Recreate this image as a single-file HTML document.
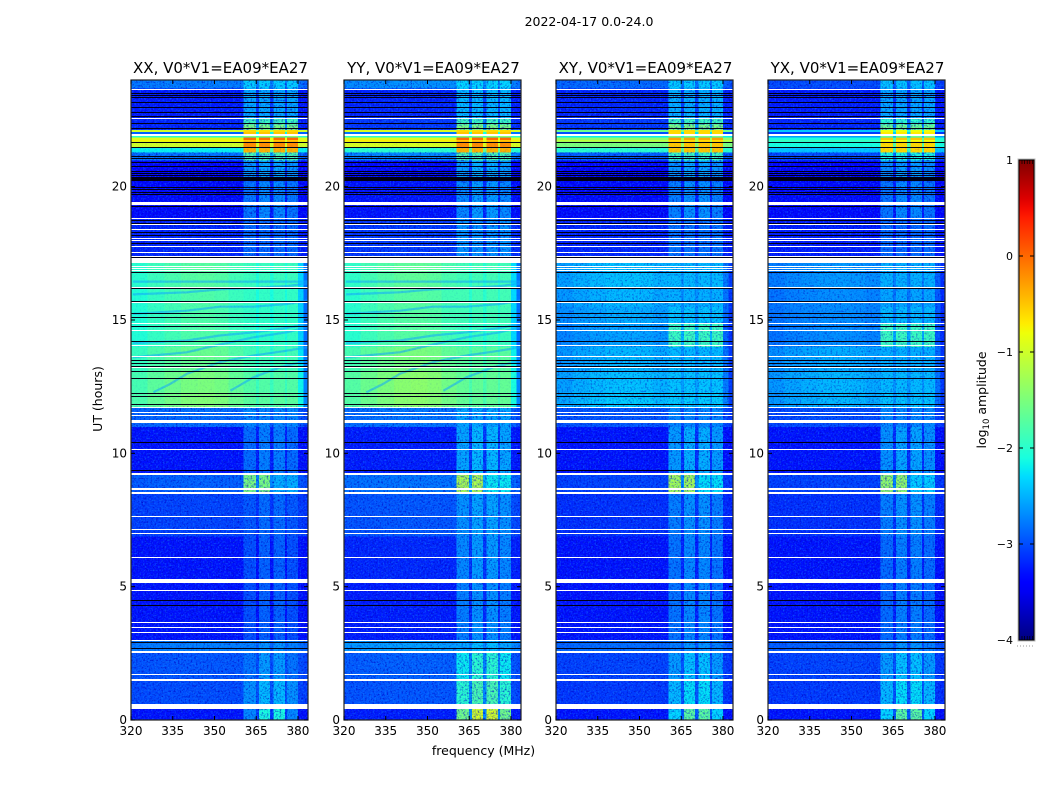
<!DOCTYPE html>
<html>
<head>
<meta charset="utf-8">
<title>Dynamic spectra</title>
<style>
html,body{margin:0;padding:0;background:#fff;width:1050px;height:800px;overflow:hidden}
svg{display:block}
text{font-family:"DejaVu Sans","Liberation Sans",sans-serif;fill:#000}
.tick{font-size:12px}
.label{font-size:12.5px}
.ptitle{font-size:15px}
</style>
</head>
<body>
<svg id="fig" xmlns="http://www.w3.org/2000/svg" width="1050" height="800" viewBox="0 0 1050 800">
  <defs>
    <filter id="grain" x="0" y="0" width="100%" height="100%" color-interpolation-filters="sRGB" filterUnits="objectBoundingBox">
      <feTurbulence type="fractalNoise" baseFrequency="0.55" numOctaves="2" seed="4"/>
      <feColorMatrix type="matrix" values="0 0 0 0 0  0 0 0 0 0  0 0 0 0 0.75  3 0 0 0 -1.45"/>
    </filter>
    <filter id="grain-light" x="0" y="0" width="100%" height="100%" color-interpolation-filters="sRGB" filterUnits="objectBoundingBox">
      <feTurbulence type="fractalNoise" baseFrequency="0.6" numOctaves="2" seed="11"/>
      <feColorMatrix type="matrix" values="0 0 0 0 0.1  0 0 0 0 0.6  0 0 0 0 1  0 3 0 0 -1.45"/>
    </filter>
    <linearGradient id="cbar-gradient" x1="0" y1="1" x2="0" y2="0"></linearGradient>
  </defs>
  <text class="label" x="589" y="26" text-anchor="middle">2022-04-17 0.0-24.0</text>
  <text class="label" transform="translate(102,399) rotate(-90)" text-anchor="middle">UT (hours)</text>
  <text class="label" x="483.5" y="755" text-anchor="middle">frequency (MHz)</text>
  <g id="panels"></g>
  <g id="colorbar"></g>
  <text class="label" transform="translate(986,400) rotate(-90)" text-anchor="middle">log<tspan font-size="8.5" dy="3">10</tspan><tspan dy="-3"> amplitude</tspan></text>
</svg>
<script>
// ---- chart data ----
const panelTitles = ["XX, V0*V1=EA09*EA27","YY, V0*V1=EA09*EA27","XY, V0*V1=EA09*EA27","YX, V0*V1=EA09*EA27"];
const freqTicks = [320,335,350,365,380];
const utTicks = [0,5,10,15,20];
const cbarTicks = [-4,-3,-2,-1,0,1];

// UT band edges (hours)
const utEdges = [0,.5,1.5,2.55,3,5.2,6.9,8.55,9.25,11,11.75,12.3,13.1,14,14.9,15.5,16.2,17.15,17.33,18.8,20.2,20.35,21,21.3,21.46,21.5,21.65,21.7,21.77,21.85,21.9,21.98,22.07,22.14,22.35,22.55,23.7,24];

// log10 amplitude of the continuum in each UT band
const xxContinuum = [-3.3,-3.0,-2.95,-2.75,-3.3,-3.3,-3.05,-2.9,-3.3,-2.85,-1.55,-1.6,-1.7,-1.85,-1.85,-1.85,-1.8,-2.3,-3.2,-3.35,-3.4,-3.4,-2.8,-2.2,-2.2,-1,-1,-.75,-.9,-2,-2,-2.9,-1,-3.2,-3.2,-3.25,-2.75];
const yyContinuum = [-3.25,-2.95,-2.9,-2.6,-3.25,-3.2,-2.95,-2.8,-3.25,-2.8,-1.5,-1.5,-1.6,-1.8,-1.8,-1.8,-1.75,-2.2,-3.1,-3.3,-3.4,-3.35,-2.7,-2,-2,-.95,-1,-.7,-.9,-2,-2,-2.8,-.95,-3.1,-3.1,-3.2,-2.65];
const xyContinuum = [-3.3,-3.1,-3.05,-2.85,-3.3,-3.3,-3.15,-3.05,-3.3,-2.95,-2.4,-2.45,-2.5,-2.6,-2.55,-2.5,-2.45,-2.7,-3.2,-3.35,-3.4,-3.4,-2.9,-2,-2,-1.5,-1.5,-1.1,-1.4,-2.2,-2.2,-3,-1.6,-3.1,-3.1,-3.2,-2.85];
const yxContinuum = [-3.3,-3.1,-3.05,-2.9,-3.3,-3.3,-3.15,-3.05,-3.3,-3,-2.5,-2.5,-2.55,-2.7,-2.7,-2.7,-2.65,-2.8,-3.25,-3.35,-3.4,-3.4,-3,-2.4,-2.4,-2.1,-2.1,-1.9,-2.1,-2.6,-2.6,-3.1,-2.4,-3.2,-3.2,-3.25,-3];

// log10 amplitude inside the four bright frequency blocks
const xxBlocks = [-2.4,-2.55,-2.7,-2.7,-2.95,-2.95,-2.9,-2.0,-2.8,-2.7,-1.7,-1.75,-1.85,-1.95,-1.95,-1.95,-1.9,-2.3,-2.85,-2.75,-3,-2.6,-1.8,-.4,-.4,-.2,-.3,-.5,0,-2,-.8,-.5,-.6,-1.5,-1.9,-2.55,-2.35];
const yyBlocks = [-1.25,-1.9,-2.1,-2.5,-2.7,-2.65,-2.6,-1.7,-2.5,-2.55,-1.65,-1.65,-1.7,-1.9,-1.85,-1.85,-1.85,-2.2,-2.65,-2.65,-3,-2.55,-1.8,-.4,-.4,-.2,-.3,-.5,0,-2,-.8,-.5,-.6,-1.5,-1.9,-2.45,-2.3];
const xyBlocks = [-2.0,-2.35,-2.5,-2.7,-2.75,-2.75,-2.7,-1.75,-2.55,-2.7,-2.35,-2.4,-2.45,-1.9,-2.4,-2.5,-2.45,-2.6,-2.8,-2.7,-3,-2.6,-1.9,-.5,-.5,-.5,-.5,-.6,-.3,-2,-1,-.6,-.6,-1.5,-1.9,-2.5,-2.35];
const yxBlocks = [-2.0,-2.35,-2.5,-2.7,-2.8,-2.8,-2.7,-1.85,-2.6,-2.7,-2.4,-2.45,-2.5,-1.9,-2.45,-2.55,-2.5,-2.65,-2.85,-2.75,-3,-2.65,-2.1,-.6,-.6,-.6,-.6,-.8,-.5,-2.1,-1.1,-.7,-.8,-1.6,-2,-2.55,-2.4];

// per-band contrast between the first and last pair of blocks, and middle blocks vs outer ones
const blockTilt = [0,0,0,0,0,0,0,.5,0,0,0,0,0,0,0,0,0,0,0,0,0,0,0,0,0,0,0,0,0,0,0,0,0,0,0,0,0];
const blockMiddle = [.3,.1,.1,.05,.05,.05,.05,0,.05,0,0,0,0,0,0,0,0,0,0,.05,0,.05,0,0,0,0,0,0,0,0,0,0,0,0,0,0,0];
// how strongly the spectral slope shows in each band (strong in the solar hours)
const slopeWeight = [.3,.3,.3,.3,.3,.3,.3,.3,.3,.5,1,1,1,1,1,1,1,.6,.3,.3,.3,.3,.2,0,0,0,0,0,0,0,0,0,0,.3,.3,.3,.3];
// how visible the pixel noise is in each band
const noiseWeight = [1,1,1,.7,1,1,1,1,1,1,.1,.1,.1,.1,.1,.1,.1,.5,1,1,1,1,1,.2,.2,.1,.1,.1,.1,.3,.3,.5,.1,1,1,1,1];

// frequency columns (MHz): kinds are c=continuum, b=bright block, g=gap, e=band edge
const freqEdges = [320,326,332,338,344,350,355,360.4,365,366,370,371.2,375.4,376,380,382,383.6];
const freqKinds = ["c","c","c","c","c","c","c","b","g","b","g","b","g","b","e","e"];
const slopeShape = [-.12,-.05,0,.04,.05,.03,-.03,0,0,0,0,0,0,0,-.3,-.6];
const blockOrder = [0,0,0,0,0,0,0,0,0,1,0,2,0,3,0,0];

// flagged integrations [UT centre, width in hours]
const whiteFlagUT = [.52,1.5,1.72,2.55,3,3.3,3.47,3.65,4.85,5.22,6.1,7,7.15,7.63,8.52,8.65,9.24,10.15,11.2,11.42,11.53,11.73,13.23,13.63,14.05,14.6,14.88,15.67,16.23,16.85,16.94,17.02,17.24,17.38,17.54,17.75,17.98,18.04,18.38,18.58,18.79,19.38,21.93,22.55,23.63];
const whiteFlagWidth = [.19,.09,.05,.09,.05,.05,.05,.05,.05,.15,.05,.05,.05,.05,.06,.06,.08,.05,.1,.05,.05,.05,.05,.05,.05,.05,.05,.05,.05,.04,.04,.04,.17,.04,.04,.04,.04,.04,.04,.04,.04,.11,.09,.05,.05];
const blackFlagUT = [2.7,2.9,4.3,4.5,9.36,10.42,11.83,12.15,12.26,12.8,13.05,13.27,13.38,13.5,14.03,14.2,14.76,15.1,15.24,15.7,16.2,16.77,17.14,17.35,17.86,18.17,18.27,18.63,18.75,19.25,19.69,19.79,19.88,19.98,20.27,20.42,20.49,20.56,20.75,20.9,21.05,21.15,21.47,21.66,22.19,22.37,22.64,22.79,22.98,23.17,23.33,23.42,23.5];
const blackFlagWidth = [.04,.04,.04,.04,.04,.04,.04,.04,.04,.04,.04,.04,.04,.04,.04,.04,.04,.04,.04,.04,.04,.04,.04,.04,.04,.04,.04,.04,.04,.04,.04,.04,.04,.04,.14,.04,.04,.04,.04,.04,.04,.04,.04,.04,.04,.04,.04,.04,.04,.04,.04,.04,.04];

// drifting solar arcs seen in the parallel hands
const arcFreqs = [[328,334,340,352,364,376,383.5],[355.7,364,373.6,383.5],[320.7,340,352,364,376,383.5],[320.7,340,352,364,376,383.5],[320.7,340,352,364,376,383.5],[320.7,340,352,364,376,383.5],[320.7,340,352,364,376,383.5]];
const arcUTs = [[12.29,12.6,12.98,13.42,13.67,13.85,13.98],[12.35,12.85,13.23,13.48],[13.6,13.79,14.08,14.35,14.54,14.73],[14.13,14.23,14.42,14.54,14.7,14.85],[15.23,15.35,15.5,15.5,15.6,15.73],[15.96,16.04,16.15,16.2,16.27,16.36],[16.44,16.44,16.44,16.44,16.44,16.44]];

const panelContinuum = [xxContinuum,yyContinuum,xyContinuum,yxContinuum];
const panelBlocks = [xxBlocks,yyBlocks,xyBlocks,yxBlocks];
const panelHasArcs = [true,true,false,false];
const panelLefts = [131,344,556,768];

// ---- axis functions ----
const NS = "http://www.w3.org/2000/svg";
const axW = 177, axTop = 80, axBottom = 720;
const fMin = 320, fMax = 383.6, utMax = 24;
function xScale(left, f){ return left + (f - fMin) / (fMax - fMin) * axW; }
function yScale(ut){ return axBottom - ut / utMax * (axBottom - axTop); }
const cbTop = 160, cbBottom = 640, cbLeft = 1019, cbRight = 1034;
function cbScale(v){ return cbBottom - (v + 4) / 5 * (cbBottom - cbTop); }

const jetR = [[0,0],[.35,0],[.66,1],[.89,1],[1,.5]];
const jetG = [[0,0],[.125,0],[.375,1],[.64,1],[.91,0],[1,0]];
const jetB = [[0,.5],[.11,1],[.34,1],[.65,0],[1,0]];
function lerp(table, t){
  for (let i = 1; i < table.length; i++) {
    if (t <= table[i][0]) {
      const a = table[i-1], b = table[i];
      return a[1] + (b[1]-a[1]) * (t-a[0]) / (b[0]-a[0]);
    }
  }
  return table[table.length-1][1];
}
function jet(v){
  const t = Math.max(0, Math.min(1, (v + 4) / 5));
  return "rgb(" + Math.round(lerp(jetR,t)*255) + "," + Math.round(lerp(jetG,t)*255) + "," + Math.round(lerp(jetB,t)*255) + ")";
}
function make(tag, attrs, parent){
  const el = document.createElementNS(NS, tag);
  for (const k in attrs) el.setAttribute(k, attrs[k]);
  parent.appendChild(el);
  return el;
}
function cellValue(p, row, col){
  const cont = panelContinuum[p][row], blocks = panelBlocks[p][row], kind = freqKinds[col];
  if (kind === "c" || kind === "e") return cont + slopeShape[col] * slopeWeight[row] * (cont + 3.5);
  if (kind === "g") return Math.min(blocks, cont) * .6 + blocks * .4 - (blocks > -1.5 ? .25 : .15);
  const n = blockOrder[col];
  const tilt = (n < 2 ? 1 : -1) * blockTilt[row];
  const mid = (n === 1 || n === 2 ? 1 : -1) * blockMiddle[row];
  return blocks + tilt + mid;
}

const panelsG = document.getElementById("panels");
panelTitles.forEach(function(title, p){
  const left = panelLefts[p];
  const g = make("g", {}, panelsG);
  
  
  const clipId = "clip" + p;
  const clip = make("clipPath", {id: clipId}, g);
  make("rect", {x: left, y: axTop, width: axW, height: axBottom - axTop}, clip);
  const plot = make("g", {"clip-path": "url(#" + clipId + ")"}, g);

  // heatmap cells
  for (let r = 0; r < utEdges.length - 1; r++) {
    for (let c = 0; c < freqEdges.length - 1; c++) {
      const x0 = xScale(left, freqEdges[c]), x1 = xScale(left, freqEdges[c+1]);
      const y0 = yScale(utEdges[r+1]), y1 = yScale(utEdges[r]);
      const cell = make("rect", {x: x0, y: y0, width: x1 - x0 + .4, height: y1 - y0 + .4, fill: jet(cellValue(p, r, c)), "shape-rendering": "crispEdges"}, plot);
      
      
    }
  }
  // drifting arcs
  if (panelHasArcs[p]) {
    arcFreqs.forEach(function(fs, a){
      const pts = fs.map(function(f, i){ return xScale(left, f).toFixed(1) + "," + yScale(arcUTs[a][i]).toFixed(1); }).join(" ");
      const arc = make("polyline", {points: pts, fill: "none", stroke: "#12a8ff", "stroke-opacity": .55, "stroke-width": 2.2}, plot);
      
      
    });
  }
  // noise texture, strength varies by UT band
  for (let r = 0; r < utEdges.length - 1; r++) {
    const y0 = yScale(utEdges[r+1]), y1 = yScale(utEdges[r]);
    if (y1 - y0 < 3) continue;
    const w = panelHasArcs[p] ? noiseWeight[r] : Math.max(noiseWeight[r], r >= 10 && r <= 17 ? .7 : 0);
    const gd = make("rect", {x: left, y: y0, width: axW, height: y1 - y0, filter: "url(#grain)", opacity: .7 * w}, plot);
    
    
    const gl = make("rect", {x: left, y: y0, width: axW, height: y1 - y0, filter: "url(#grain-light)", opacity: .45 * w}, plot);
    
    
  }

  // flagged rows
  blackFlagUT.forEach(function(ut, i){
    const h = Math.max(1, Math.round(blackFlagWidth[i] / utMax * (axBottom - axTop)));
    const line = make("rect", {x: left, y: Math.round(yScale(ut) - h/2), width: axW, height: h, fill: "#000014", "shape-rendering": "crispEdges"}, plot);
    
    
  });
  whiteFlagUT.forEach(function(ut, i){
    const h = Math.max(1, Math.round(whiteFlagWidth[i] / utMax * (axBottom - axTop)));
    const line = make("rect", {x: left, y: Math.round(yScale(ut) - h/2), width: axW, height: h, fill: "#fff", "shape-rendering": "crispEdges"}, plot);
    
    
  });

  // frame
  const frame = make("rect", {x: left, y: axTop, width: axW, height: axBottom - axTop, fill: "none", stroke: "#222", "stroke-width": 1.2}, g);
  
  

  // ticks
  freqTicks.forEach(function(f){
    const x = xScale(left, f);
    const t1 = make("line", {x1: x, x2: x, y1: axBottom, y2: axBottom - 4, stroke: "#000"}, g);
    
    
    const t2 = make("line", {x1: x, x2: x, y1: axTop, y2: axTop + 4, stroke: "#000"}, g);
    
    
    const lab = make("text", {x: x, y: 735, "text-anchor": "middle", class: "tick"}, g);
    
    
    lab.textContent = f;
  });
  utTicks.forEach(function(ut){
    const y = yScale(ut);
    const t1 = make("line", {x1: left, x2: left + 4, y1: y, y2: y, stroke: "#000"}, g);
    
    
    const t2 = make("line", {x1: left + axW, x2: left + axW - 4, y1: y, y2: y, stroke: "#000"}, g);
    
    
    const lab = make("text", {x: left - 4, y: y + 4, "text-anchor": "end", class: "tick"}, g);
    
    
    lab.textContent = ut;
  });
  const tt = make("text", {x: left + axW / 2 + 1, y: 73, "text-anchor": "middle", class: "ptitle"}, g);
  
  
  tt.textContent = title;
});

// ---- colorbar ----
const grad = document.getElementById("cbar-gradient");
for (let i = 0; i <= 50; i++) {
  make("stop", {offset: (i / 50), "stop-color": jet(-4 + i / 10)}, grad);
}
const cb = document.getElementById("colorbar");
const cbRect = make("rect", {x: cbLeft, y: cbTop, width: cbRight - cbLeft, height: cbBottom - cbTop, fill: "url(#cbar-gradient)", stroke: "#000", "stroke-width": 1}, cb);


const cbOuter = make("rect", {x: cbLeft - 1, y: cbTop - 1, width: cbRight - cbLeft + 2, height: cbBottom - cbTop + 2, fill: "none", stroke: "#bbb", "stroke-width": 1}, cb);


cbarTicks.forEach(function(v){
  const y = cbScale(v);
  const t1 = make("line", {x1: cbLeft, x2: cbLeft + 4, y1: y, y2: y, stroke: "#000"}, cb);
  
  
  const t2 = make("line", {x1: cbRight, x2: cbRight - 4, y1: y, y2: y, stroke: "#000"}, cb);
  
  
  const lab = make("text", {x: cbLeft - 6, y: y + 4, "text-anchor": "end", "font-size": "11"}, cb);
  
  
  lab.textContent = v < 0 ? "\u2212" + (-v) : String(v);
});
[0,1,2,3,4].forEach(function(i){
  const x = cbLeft + 3 + i * 2.6;
  const top = make("line", {x1: x, x2: x, y1: cbTop, y2: cbTop + 4, stroke: "#000", "stroke-width": .7}, cb);
  
  
  const bot = make("line", {x1: x, x2: x, y1: cbBottom, y2: cbBottom - 4, stroke: "#000", "stroke-width": .7}, cb);
  
  
});
const dots = make("line", {x1: 1017, x2: 1035, y1: 646, y2: 646, stroke: "#999", "stroke-width": 1, "stroke-dasharray": "1 2"}, cb);


</script>
</body>
</html>
